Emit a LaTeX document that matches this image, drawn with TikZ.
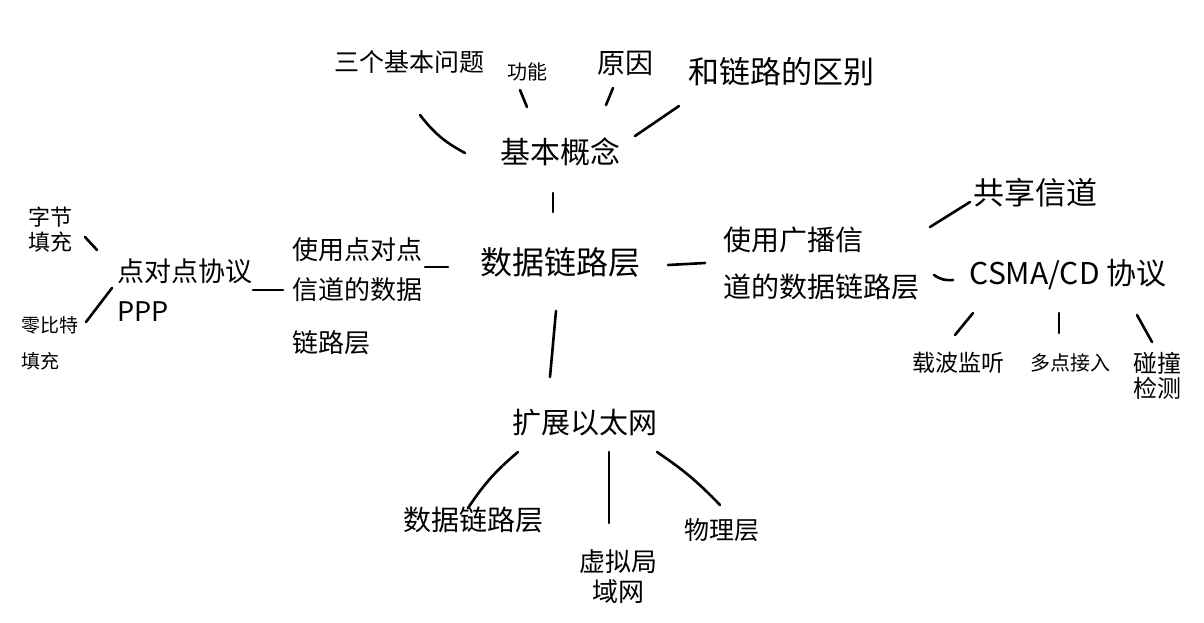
\documentclass[tikz,border=0pt]{standalone}
\usepackage{fontspec}
\newfontfamily\cjk{Noto Sans CJK SC}
\tikzset{
    lab/.style={font=\cjk\fontsize{#1}{#1}\selectfont, inner sep=0pt, align=left},
    branch/.style={line width=2.6pt, line cap=round, draw=black}
}
\begin{document}
\begin{tikzpicture}[x=1pt, y=-1pt]
    \useasboundingbox (0,0) rectangle (1204,622);
    % centre
    \node[lab=32] (sjllc) at (560,262) {数据链路层};
    % basic concepts
    \node[lab=30] (jbgn) at (560,152) {基本概念};
    \node[lab=25] (sgwt) at (409,62) {三个基本问题};
    \node[lab=20] (gn) at (527,72) {功能};
    \node[lab=28] (yy) at (625,63) {原因};
    \node[lab=31] (qb) at (781,72) {和链路的区别};
    % point to point
    \node[lab=26] (ddd) at (357,296) {使用点对点\\[14pt]信道的数据\\[27pt]链路层};
    \node[lab=27] (ppp) at (185,290) {点对点协议\\[13pt]PPP};
    \node[lab=22] (zjtc) at (50,230) {字节\\[3pt]填充};
    \node[lab=19] (lbttc) at (50,343) {零比特\\[17pt]填充};
    % broadcast
    \node[lab=28] (gbx) at (821,263) {使用广播信\\[19pt]道的数据链路层};
    \node[lab=31] (gxxd) at (1035,193) {共享信道};
    \node[lab=30] (csma) at (1068,275) {CSMA/CD 协议};
    \node[lab=23] (zbjt) at (958,363) {载波监听};
    \node[lab=20] (ddjr) at (1070,363) {多点接入};
    \node[lab=24] (pzjc) at (1157,376) {碰撞\\[1pt]检测};
    % extended ethernet
    \node[lab=29] (kzytw) at (585,423) {扩展以太网};
    \node[lab=28] (sjllc2) at (473,520) {数据链路层};
    \node[lab=26, align=center] (xnjyw) at (618,577) {虚拟局\\[4pt]域网};
    \node[lab=25] (wlc) at (722,530) {物理层};

    \draw[branch] ([shift={(-95,1)}]jbgn.center) to[bend left=12] ([shift={(11,53)}]sgwt.center);
    \draw[branch] ([shift={(-33,-45)}]jbgn.center) -- ([shift={(-7,18)}]gn.center);
    \draw[branch] ([shift={(46,-47)}]jbgn.center) -- ([shift={(-12,25)}]yy.center);
    \draw[branch] ([shift={(75,-16)}]jbgn.center) -- ([shift={(-102,34)}]qb.center);
    \draw[branch] ([shift={(-7,-50)}]sjllc.center) -- ([shift={(-7,41)}]jbgn.center);

    \draw[branch] ([shift={(-112,5)}]sjllc.center) -- ([shift={(68,-29)}]ddd.center);
    \draw[branch] ([shift={(-74,-6)}]ddd.center) -- ([shift={(68,0)}]ppp.center);
    \draw[branch] ([shift={(-88,-40)}]ppp.center) -- ([shift={(35,7)}]zjtc.center);
    \draw[branch] ([shift={(-73,-2)}]ppp.center) -- ([shift={(36,-21)}]lbttc.center);

    \draw[branch] ([shift={(108,3)}]sjllc.center) -- ([shift={(-116,0)}]gbx.center);
    \draw[branch] ([shift={(109,-36)}]gbx.center) -- ([shift={(-65,9)}]gxxd.center);
    \draw[branch] ([shift={(113,12)}]gbx.center) to[bend right=20] ([shift={(-115,5)}]csma.center);
    \draw[branch] ([shift={(-95,38)}]csma.center) -- ([shift={(-3,-28)}]zbjt.center);
    \draw[branch] ([shift={(-9,38)}]csma.center) -- ([shift={(-11,-30)}]ddjr.center);
    \draw[branch] ([shift={(69,40)}]csma.center) -- ([shift={(-5,-34)}]pzjc.center);

    \draw[branch] ([shift={(-4,49)}]sjllc.center) -- ([shift={(-35,-46)}]kzytw.center);
    \draw[branch] ([shift={(-67,29)}]kzytw.center) to[bend right=8] ([shift={(-5,-12)}]sjllc2.center);
    \draw[branch] ([shift={(24,29)}]kzytw.center) -- ([shift={(-9,-54)}]xnjyw.center);
    \draw[branch] ([shift={(72,29)}]kzytw.center) to[bend left=6] ([shift={(-2,-25)}]wlc.center);
\end{tikzpicture}
\end{document}
